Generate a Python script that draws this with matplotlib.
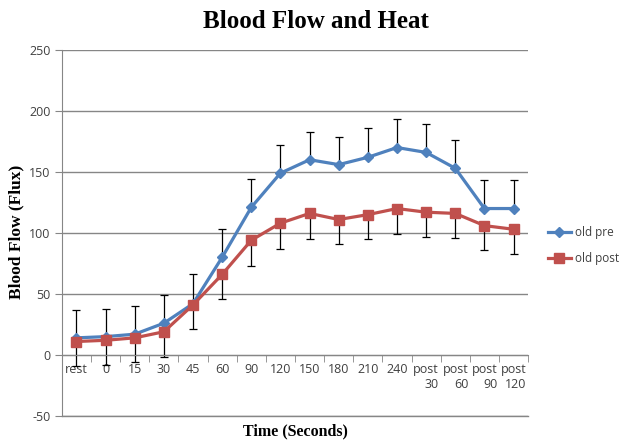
import numpy as np
import matplotlib
matplotlib.use("Agg")
import matplotlib.pyplot as plt

plt.rcParams["axes.unicode_minus"] = False

# categories and values
times = ["rest", "0", "15", "30", "45", "60", "90", "120", "150", "180",
         "210", "240", "post\n30", "post\n60", "post\n90", "post\n120"]
old_pre = [14, 15, 17, 26, 42, 80, 121, 149, 160, 156, 162, 170, 166, 153, 120, 120]
old_post = [11, 12, 14, 19, 41, 66, 94, 108, 116, 111, 115, 120, 117, 116, 106, 103]
pre_err = [23, 23, 23, 23, 24, 23, 23, 23, 23, 23, 24, 23, 23, 23, 23, 23]
post_err = [20, 20, 20, 21, 20, 20, 21, 21, 21, 20, 20, 21, 20, 20, 20, 20]

blue = "#4F81BD"
red = "#C0504D"
grid_c = "#868686"
tick_c = "#404040"

fig = plt.figure(figsize=(6.25, 4.42), dpi=100)
ax = fig.add_axes([0.099, 0.059, 0.746, 0.828])

x = np.arange(len(times))
zeros = np.zeros(len(times))

# error bars: pre goes up, post goes down
ax.errorbar(x, old_pre, yerr=[zeros, pre_err], fmt="none", ecolor="black",
            elinewidth=0.9, capsize=3, capthick=0.9, zorder=2)
ax.errorbar(x, old_post, yerr=[post_err, zeros], fmt="none", ecolor="black",
            elinewidth=0.9, capsize=3, capthick=0.9, zorder=2)

ax.plot(x, old_pre, color=blue, lw=2.3, marker="D", ms=5.5,
        label="old pre", zorder=3)
ax.plot(x, old_post, color=red, lw=2.3, marker="s", ms=7,
        label="old post", zorder=3)

ax.set_xlim(-0.5, len(times) - 0.5)
ax.set_ylim(-50, 250)
ax.set_yticks(np.arange(-50, 251, 50))
ax.yaxis.grid(True, color=grid_c, lw=1)
ax.axhline(-50, color=grid_c, lw=1, clip_on=False, zorder=0.5)
ax.set_axisbelow(True)

for s in ["top", "right"]:
    ax.spines[s].set_visible(False)
ax.spines["left"].set_color(grid_c)
ax.spines["bottom"].set_position(("data", 0))
ax.spines["bottom"].set_color(grid_c)

ax.set_xticks(x)
ax.set_xticklabels(times)
ax.set_xticks(np.arange(-0.5, len(times), 1), minor=True)
ax.tick_params(axis="x", which="major", length=0, pad=6,
               labelsize=9, labelcolor=tick_c)
ax.tick_params(axis="x", which="minor", length=5, color=grid_c, direction="out")
ax.tick_params(axis="y", length=5, color=grid_c, labelsize=9,
               labelcolor=tick_c, pad=3)
for lab in ax.get_xticklabels() + ax.get_yticklabels():
    lab.set_family("Open Sans")
for lab in ax.get_xticklabels():
    lab.set_horizontalalignment("center")
    lab.set_multialignment("right")

fig.text(0.505, 0.952, "Blood Flow and Heat", ha="center", va="center",
         family="Liberation Serif", weight="bold", fontsize=18)
fig.text(0.472, 0.025, "Time (Seconds)", ha="center", va="center",
         family="Liberation Serif", weight="bold", fontsize=11.5)
fig.text(0.027, 0.475, "Blood Flow (Flux)", ha="center", va="center",
         rotation=90, family="Liberation Serif", weight="bold", fontsize=12.5)

leg = fig.legend(loc="center left", bbox_to_anchor=(0.876, 0.445),
                 frameon=False, handlelength=2.0, handletextpad=0.3,
                 borderpad=0, borderaxespad=0,
                 labelspacing=1.1, prop={"family": "Open Sans", "size": 8.5})
for t in leg.get_texts():
    t.set_color(tick_c)

fig.savefig("out.png", dpi=100)
